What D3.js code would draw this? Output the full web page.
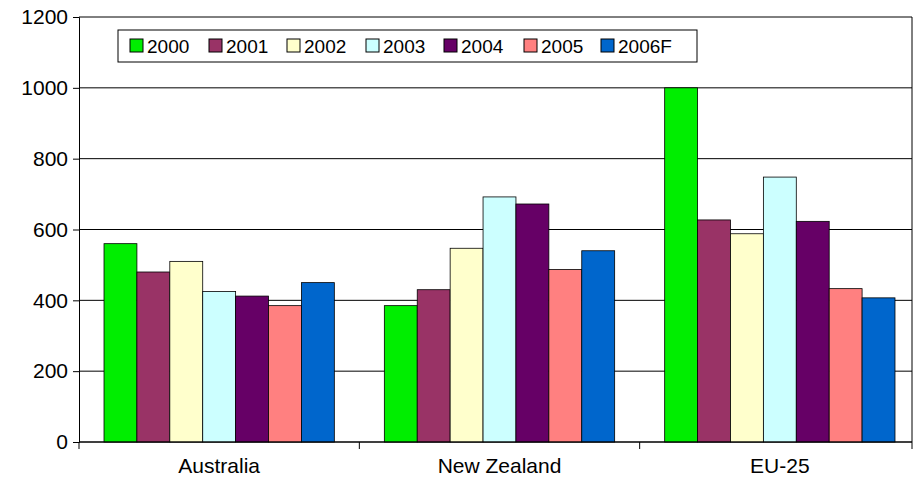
<!DOCTYPE html><html><head><script src="https://cdn.jsdelivr.net/npm/d3@7"></script>
<style>body{margin:0;background:#fff}text{font-family:Arial,"Liberation Sans",sans-serif}</style></head><body>
<svg id="c" width="913" height="491"></svg>
<script>
const categories=["Australia","New Zealand","EU-25"];
const series=["2000","2001","2002","2003","2004","2005","2006F"];
const colors=["#00ee00","#993366","#ffffcc","#ccffff","#660066","#ff8080","#0066cc"];
const values=[[560,385,1000],[480,430,627],[510,547,588],[425,692,748],[412,672,623],[385,487,433],[450,540,407]];
const yTicks=[0,200,400,600,800,1000,1200];
const svg=d3.select("#c");
const L=79,R=920,T=17,B=442,RB=912;
const x=d3.scaleBand().domain(categories).range([L,R]).paddingInner(0).paddingOuter(0);
const y=d3.scaleLinear().domain([0,1200]).range([B,T]);
const xs=d3.scaleBand().domain(series).range([0,x.bandwidth()]).paddingOuter(0.76).paddingInner(0);
svg.append("g").selectAll("line").data(yTicks).join("line").attr("x1",L).attr("x2",RB).attr("y1",d=>y(d)).attr("y2",d=>y(d)).attr("stroke","#000").attr("stroke-width",1);
svg.append("line").attr("x1",RB).attr("x2",RB).attr("y1",T).attr("y2",B).attr("stroke","#000");
series.forEach((s,i)=>{
 svg.append("g").selectAll("rect").data(categories).join("rect")
 .attr("x",c=>x(c)+xs(s)).attr("width",xs.bandwidth()).attr("y",(c,j)=>y(values[i][j])).attr("height",(c,j)=>B-y(values[i][j]))
 .attr("fill",colors[i]).attr("stroke","#000").attr("stroke-width",0.8);
});
const ya=svg.append("g").attr("transform",`translate(${L},0)`).call(d3.axisLeft(y).tickValues(yTicks).tickSize(6).tickFormat(d3.format("d")));
ya.selectAll("text").attr("font-size",21).attr("fill","#000").attr("dx",-2);
ya.selectAll("line,path").attr("stroke","#000");
const xa=svg.append("g").attr("transform",`translate(0,${B})`).call(d3.axisBottom(x).tickSize(0));
xa.selectAll("text").attr("font-size",21).attr("fill","#000").attr("dy",28);
xa.select("path").remove();
xa.append("line").attr("x1",L).attr("x2",RB).attr("stroke","#000");
xa.selectAll(".b").data([L,x(categories[1]),x(categories[2]),RB]).join("line").attr("x1",d=>d).attr("x2",d=>d).attr("y1",0).attr("y2",7).attr("stroke","#000");
const lg=svg.append("g");
lg.append("rect").attr("x",118).attr("y",30).attr("width",579).attr("height",32).attr("fill","#fff").attr("stroke","#000");
const lx=[130,209,287,366,444,524,601];
series.forEach((s,i)=>{
 lg.append("rect").attr("x",lx[i]).attr("y",39).attr("width",13).attr("height",13).attr("fill",colors[i]).attr("stroke","#000");
 lg.append("text").attr("x",lx[i]+17).attr("y",53).attr("font-size",19).text(s);
});
</script></body></html>
